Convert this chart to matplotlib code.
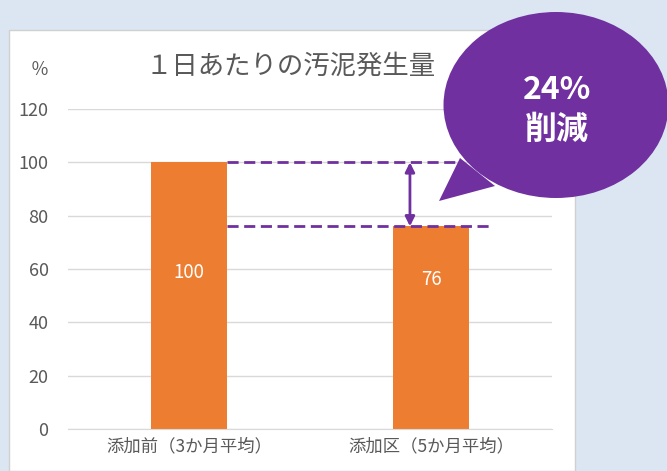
import matplotlib.pyplot as plt
from matplotlib.patches import Rectangle, Ellipse, Polygon

plt.rcParams['font.family'] = ['Noto Sans CJK JP', 'DejaVu Sans']

# data
categories = ['添加前（3か月平均）', '添加区（5か月平均）']
values = [100, 76]
yticks = [0, 20, 40, 60, 80, 100, 120]
title = '１日あたりの汚泥発生量'
callout = '24%\n削減'

bar_color = '#ED7D31'
purple = '#7030A0'
grey_txt = '#595959'

fig = plt.figure(figsize=(6.67, 4.71), dpi=100)
fig.patch.set_facecolor('#DCE6F2')

# white chart panel
panel = Rectangle((9 / 667, 0), (575 - 9) / 667, 1 - 30 / 471,
                  transform=fig.transFigure, facecolor='white',
                  edgecolor='#D0D0D0', lw=1, zorder=-1)
fig.patches.append(panel)

ax = fig.add_axes([68 / 667, 1 - 429 / 471, 484 / 667, 320 / 471])
ax.set_facecolor('none')
x = list(range(len(categories)))
bars = ax.bar(x, values, width=0.31, color=bar_color, zorder=2)
ax.set_xlim(-0.5, 1.5)
ax.set_ylim(0, 120)
ax.set_yticks(yticks)
ax.set_xticks(x)
ax.set_xticklabels(categories, fontsize=12.5, color=grey_txt)
ax.tick_params(axis='y', labelsize=13, labelcolor=grey_txt, length=0, pad=14)
ax.tick_params(axis='x', length=0, pad=6)
ax.grid(axis='y', color='#D9D9D9', lw=1, zorder=0)
for s in ['top', 'right', 'left']:
    ax.spines[s].set_visible(False)
ax.spines['bottom'].set_color('#D9D9D9')

# value labels sit a bit above the bar middle, as in the original
label_pos = [0.585, 0.74]
for b, v, f in zip(bars, values, label_pos):
    ax.text(b.get_x() + b.get_width() / 2, v * f, str(v), ha='center',
            va='center', color='white', fontsize=13.5, zorder=3)

# reduction markers
ax.plot([0.155, 1.12], [values[0], values[0]], ls=(0, (4, 2)), color=purple, lw=2, zorder=3)
ax.plot([0.155, 1.24], [values[1], values[1]], ls=(0, (4, 2)), color=purple, lw=2, zorder=3)
ax.annotate('', xy=(0.913, values[1]), xytext=(0.913, values[0]),
            arrowprops=dict(arrowstyle='<|-|>', color=purple, lw=2,
                            mutation_scale=14, shrinkA=0, shrinkB=0), zorder=4)

fig.text(291 / 667, 1 - 66 / 471, title, ha='center', va='center',
         fontsize=19, color=grey_txt)
fig.text(40 / 667, 1 - 70 / 471, '％', ha='center', va='center',
         fontsize=13, color=grey_txt)

# speech bubble
tail = Polygon([(460 / 667, 1 - 158 / 471), (439 / 667, 1 - 201 / 471),
                (495 / 667, 1 - 186 / 471)], closed=True,
               transform=fig.transFigure, facecolor=purple, edgecolor='none', zorder=5)
bubble = Ellipse((556 / 667, 1 - 105 / 471), 225 / 667, 186 / 471,
                 transform=fig.transFigure, facecolor=purple, edgecolor='none', zorder=5)
fig.patches.append(tail)
fig.patches.append(bubble)
fig.text(557 / 667, 1 - 110 / 471, callout, ha='center', va='center',
         fontsize=23, fontweight='bold', color='white', linespacing=1.35, zorder=6)

fig.savefig('out.png', dpi=100, facecolor=fig.get_facecolor())
